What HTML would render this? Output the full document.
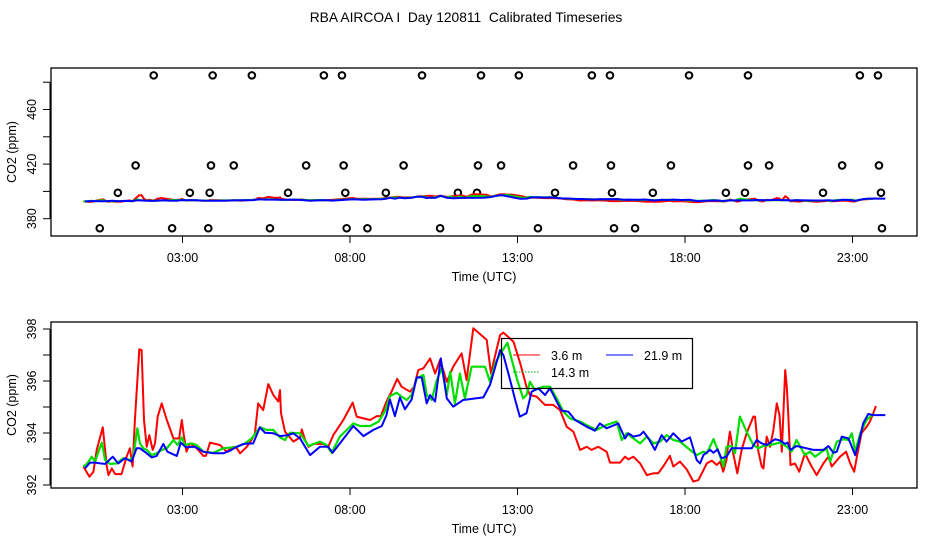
<!DOCTYPE html>
<html><head><meta charset="utf-8"><style>
html,body{margin:0;padding:0;background:#fff;}
svg{display:block;font-family:"Liberation Sans",sans-serif;}
</style></head><body>
<svg id="chart" width="936" height="540" viewBox="0 0 936 540" xmlns="http://www.w3.org/2000/svg">
<text x="466" y="22" font-size="13.8" text-anchor="middle" xml:space="preserve">RBA AIRCOA I  Day 120811  Calibrated Timeseries</text>
<g id="topPanel"></g>
<g id="botPanel"></g>
</svg>
<script>
const timeTicks = [3, 8, 13, 18, 23];
const timeTickLabels = ["03:00", "08:00", "13:00", "18:00", "23:00"];
const topYTicks = [380, 400, 420, 440, 460, 480];
const topYLabels = ["380", "", "420", "", "460", ""];
const botYTicks = [392, 393, 394, 395, 396, 397, 398];
const botYLabels = ["392", "", "394", "", "396", "", "398"];

const redHours = [0.04,0.22,0.34,0.44,0.62,0.74,0.79,0.89,0.99,1.18,1.33,1.43,1.51,1.58,1.71,1.78,1.85,1.93,2.01,2.11,2.18,2.26,2.38,2.53,2.73,2.90,2.98,3.04,3.12,3.22,3.37,3.47,3.62,3.70,3.82,4.12,4.32,4.52,4.62,4.72,4.92,5.06,5.16,5.26,5.41,5.56,5.71,5.86,5.91,5.94,6.06,6.31,6.51,6.56,6.66,6.76,6.91,7.20,7.35,7.50,7.80,8.08,8.20,8.40,8.60,8.80,8.92,9.09,9.24,9.41,9.54,9.79,9.91,10.04,10.19,10.39,10.54,10.69,10.89,11.08,11.33,11.48,11.68,12.08,12.21,12.30,12.48,12.58,12.88,13.08,13.27,13.37,13.57,13.82,14.07,14.27,14.47,14.67,14.87,15.07,15.21,15.41,15.66,15.76,16.06,16.21,16.31,16.46,16.66,16.86,17.06,17.20,17.35,17.55,17.65,17.85,18.05,18.25,18.40,18.65,18.80,18.95,19.05,19.14,19.24,19.29,19.34,19.39,19.44,19.56,19.69,19.84,20.04,20.09,20.19,20.29,20.34,20.44,20.54,20.64,20.74,20.82,20.89,20.99,21.04,21.08,21.15,21.28,21.41,21.58,21.78,21.93,22.13,22.28,22.38,22.63,22.81,22.93,23.05,23.13,23.27,23.42,23.52,23.62,23.70];
const redCO2 = [392.71,392.32,392.51,393.35,394.22,392.71,392.38,392.64,392.42,392.42,393.09,393.41,392.71,394.5,397.22,397.19,394.5,393.47,393.92,393.35,393.6,394.63,395.14,394.5,393.79,393.79,394.5,393.92,393.28,393.6,393.47,393.35,393.12,393.12,393.63,393.54,393.28,393.47,393.41,393.22,393.47,393.73,393.99,395.14,394.88,395.88,395.46,395.21,395.65,394.76,394.05,393.67,393.83,394.14,393.73,393.47,393.58,393.58,393.47,393.92,394.50,395.17,394.63,394.56,394.50,394.65,394.65,395.21,395.59,396.08,395.78,395.59,395.78,396.42,396.49,396.87,396.29,396.81,395.97,396.55,397.06,396.04,398.03,397.58,396.29,396.81,397.77,397.86,397.51,396.68,395.78,395.46,395.40,395.08,395.08,394.88,394.24,394.05,393.35,393.47,393.35,393.47,393.28,392.86,392.86,393.09,392.99,393.09,392.83,392.38,392.45,392.45,392.71,393.12,392.71,392.90,392.60,392.13,392.19,392.83,392.94,392.77,392.90,392.51,392.96,393.58,394.05,393.67,393.22,392.45,393.35,393.99,394.63,394.63,393.28,392.71,392.64,393.86,393.47,394.12,395.14,394.69,393.28,396.42,395.78,394.76,392.77,392.83,392.51,393.22,392.71,392.38,392.83,393.09,392.71,393.09,393.28,392.83,392.51,393.09,393.99,394.24,394.44,394.76,395.04];

const greenHours = [0.04,0.16,0.29,0.39,0.49,0.59,0.69,0.84,1.03,1.23,1.43,1.53,1.65,1.73,1.83,1.93,2.08,2.23,2.38,2.53,2.73,2.85,2.98,3.07,3.27,3.42,3.62,3.92,4.22,4.62,4.87,5.06,5.31,5.51,5.71,5.91,6.06,6.21,6.51,6.76,7.10,7.30,7.45,7.70,8.10,8.30,8.60,8.85,9.04,9.19,9.39,9.54,9.69,9.84,9.99,10.19,10.29,10.44,10.59,10.74,10.89,10.99,11.13,11.28,11.43,11.63,12.03,12.18,12.33,12.53,12.70,12.83,12.98,13.17,13.27,13.37,13.52,13.77,13.97,14.17,14.37,14.57,14.87,15.16,15.36,15.66,15.96,16.11,16.26,16.46,16.66,16.86,17.06,17.26,17.45,17.65,17.85,18.15,18.35,18.55,18.65,18.85,19.00,19.15,19.24,19.39,19.49,19.64,19.84,20.04,20.19,20.34,20.54,20.84,21.04,21.18,21.33,21.58,21.73,21.88,22.08,22.23,22.33,22.53,22.73,22.88,22.98,23.08,23.23,23.42,23.62];
const greenCO2 = [392.71,392.83,393.09,392.90,393.28,393.63,392.96,392.81,392.83,393.03,392.96,393.09,394.18,393.60,393.41,393.35,393.15,393.22,393.35,393.41,393.73,393.54,393.83,393.54,393.60,393.54,393.28,393.24,393.41,393.47,393.60,393.79,394.22,394.12,394.12,393.83,393.73,394.01,393.99,393.50,393.67,393.54,393.24,393.86,394.37,394.27,394.27,394.44,394.82,395.42,395.55,395.40,395.27,395.46,396.10,396.23,395.46,395.27,396.04,396.49,395.46,396.36,395.14,396.29,395.33,396.55,396.55,395.97,396.68,397.13,397.47,396.81,396.10,395.33,395.46,395.97,395.65,395.78,395.78,395.33,394.82,394.56,394.44,394.24,394.12,394.31,394.44,393.73,393.99,393.79,393.60,393.86,393.60,393.67,393.92,393.73,393.67,393.35,393.15,393.28,393.22,393.76,393.28,392.71,393.47,393.50,393.22,394.63,394.05,393.54,393.41,393.50,393.54,393.63,393.47,393.28,393.73,393.15,393.28,393.09,393.28,393.41,392.90,393.67,393.76,393.73,393.99,393.28,393.99,394.50,394.73];

const blueHours = [0.09,0.24,0.39,0.54,0.69,0.92,1.08,1.28,1.48,1.63,1.73,1.93,2.08,2.23,2.43,2.55,2.83,2.95,3.10,3.37,3.62,3.92,4.22,4.42,4.57,4.82,5.11,5.31,5.46,5.71,5.91,6.16,6.31,6.51,6.81,7.10,7.35,7.48,7.70,8.10,8.40,8.70,8.95,9.09,9.19,9.34,9.49,9.64,9.84,9.99,10.14,10.29,10.39,10.54,10.71,10.89,11.08,11.38,11.98,12.18,12.48,12.58,12.78,12.93,13.07,13.27,13.42,13.62,13.82,13.97,14.22,14.32,14.52,14.72,15.07,15.31,15.46,15.66,16.01,16.21,16.31,16.46,16.66,16.76,16.91,17.10,17.30,17.45,17.65,17.90,18.15,18.35,18.45,18.55,18.75,18.85,18.97,19.09,19.24,19.39,19.64,19.99,20.14,20.29,20.44,20.69,20.84,20.99,21.06,21.15,21.33,21.63,21.83,22.13,22.28,22.43,22.53,22.68,22.88,23.08,23.17,23.32,23.47,23.62,23.98];
const blueCO2 = [392.64,392.86,392.86,392.83,392.81,393.09,392.83,393.03,392.90,393.41,393.41,393.22,393.06,393.12,393.58,393.28,393.12,393.63,393.45,393.47,393.28,393.22,393.22,393.32,393.44,393.58,393.60,394.22,394.01,393.99,393.88,393.92,393.99,393.79,393.15,393.47,393.47,393.24,393.60,394.27,393.88,394.12,394.27,394.69,395.29,394.65,395.37,394.91,395.29,396.14,396.14,395.14,395.46,395.21,396.87,395.33,395.01,395.27,395.37,395.85,397.19,397.00,396.04,395.27,394.63,394.76,395.59,395.72,395.46,395.72,395.08,394.86,394.82,394.50,394.24,394.09,394.37,394.18,394.37,393.79,393.99,393.86,393.92,394.05,393.79,393.35,393.92,393.67,393.99,393.67,393.83,392.96,392.83,393.15,393.35,393.24,393.37,393.03,393.09,393.41,393.41,393.41,393.73,393.60,393.54,393.76,393.71,393.58,393.63,393.35,393.50,393.41,393.35,393.35,393.50,393.24,393.28,393.86,393.79,393.15,393.54,394.37,394.73,394.69,394.69];

const flagHours = [2.14,3.90,5.07,7.22,7.76,10.15,11.91,13.04,15.22,15.76,18.12,19.88,23.22,23.76, 1.60,3.85,4.53,6.69,7.81,9.60,11.82,12.51,14.66,15.79,17.58,19.88,20.51,22.69,23.79, 1.07,3.22,3.81,6.15,7.86,9.07,11.22,11.79,14.12,15.82,17.04,19.22,19.79,22.12,23.85, 0.53,2.69,3.77,5.61,7.90,8.52,10.69,11.79,13.61,15.88,16.51,18.69,19.76,21.58,23.88];
const flagCO2 = [485,485,485,485,485,485,485,485,485,485,485,485,485,485, 419,419,419,419,419,419,419,419,419,419,419,419,419,419,419, 399,399,399,399,399,399,399,399,399,399,399,399,399,399,399, 373,373,373,373,373,373,373,373,373,373,373,373,373,373,373];

const NS = "http://www.w3.org/2000/svg";
function mk(tag, attrs, parent) {
  const e = document.createElementNS(NS, tag);
  for (const k in attrs) e.setAttribute(k, attrs[k]);
  parent.appendChild(e);
  return e;
}
function xScale(h) { return 82 + h * 33.5; }
function topY(v) { return 218.7 - (v - 380) * 1.365; }
function botY(v) { return 485 - (v - 392) * 26; }

function drawAxes(g, box, yTicks, yLabels, yFn, name) {
  const frame = mk("rect", {x: box.x0, y: box.y0, width: box.x1 - box.x0, height: box.y1 - box.y0, fill: "none", stroke: "#000", "stroke-width": 1.3}, g);
  
  
  timeTicks.forEach((t, i) => {
    const x = xScale(t);
    const tk = mk("line", {x1: x, x2: x, y1: box.y1, y2: box.y1 + 7, stroke: "#000", "stroke-width": 1}, g);
    
    
    const lb = mk("text", {x: x, y: box.y1 + 26, "font-size": 12.5, "text-anchor": "middle"}, g);
    lb.textContent = timeTickLabels[i];
    
    
  });
  const axl = mk("line", {x1: 50, x2: 50, y1: yFn(yTicks[0]), y2: yFn(yTicks[yTicks.length - 1]), stroke: "#000", "stroke-width": 1}, g);
  
  
  yTicks.forEach((v, i) => {
    const y = yFn(v);
    const tk = mk("line", {x1: 43, x2: 50, y1: y, y2: y, stroke: "#000", "stroke-width": 1}, g);
    
    
    if (yLabels[i]) {
      const lb = mk("text", {x: 0, y: 0, "font-size": 12.5, "text-anchor": "middle", transform: "translate(36," + y + ") rotate(-90)"}, g);
      lb.textContent = yLabels[i];
      
      
    }
  });
  const yt = mk("text", {x: 0, y: 0, "font-size": 12.5, "text-anchor": "middle", transform: "translate(16," + ((box.y0 + box.y1) / 2) + ") rotate(-90)"}, g);
  yt.textContent = "CO2 (ppm)";
  
  
  const xt = mk("text", {x: 484, y: box.y1 + 45, "font-size": 12.5, "text-anchor": "middle"}, g);
  xt.textContent = "Time (UTC)";
  
  
}

function drawSeries(g, hours, vals, yFn, color, width, name) {
  const pts = hours.map((h, i) => xScale(h).toFixed(1) + "," + yFn(vals[i]).toFixed(1)).join(" ");
  const p = mk("polyline", {points: pts, fill: "none", stroke: color, "stroke-width": width, "stroke-linejoin": "round"}, g);
  
  
}

const topG = document.getElementById("topPanel");
const botG = document.getElementById("botPanel");
drawAxes(topG, {x0: 51, x1: 917, y0: 68, y1: 236}, topYTicks, topYLabels, topY, "top");
drawAxes(botG, {x0: 51, x1: 917, y0: 322, y1: 488}, botYTicks, botYLabels, botY, "bottom");

flagHours.forEach((h, i) => {
  const c = mk("circle", {cx: xScale(h), cy: topY(flagCO2[i]), r: 3.3, fill: "none", stroke: "#000", "stroke-width": 2}, topG);
  
  
});
drawSeries(topG, redHours, redCO2, topY, "#ff0000", 2, "top-series-3-6m");
drawSeries(topG, greenHours, greenCO2, topY, "#00dd00", 2, "top-series-14-3m");
drawSeries(topG, blueHours, blueCO2, topY, "#0000ff", 2, "top-series-21-9m");

drawSeries(botG, redHours, redCO2, botY, "#ff0000", 2, "series-3-6m");
drawSeries(botG, greenHours, greenCO2, botY, "#00dd00", 2.2, "series-14-3m");
drawSeries(botG, blueHours, blueCO2, botY, "#0000ff", 2, "series-21-9m");

const lg = mk("g", {}, botG);


const lbox = mk("rect", {x: 501.5, y: 338.5, width: 191, height: 50, fill: "none", stroke: "#000", "stroke-width": 1.2}, lg);


const entries = [
  {x: 513, y: 355, color: "#ff0000", label: "3.6 m", dash: null},
  {x: 513, y: 372, color: "#00aa00", label: "14.3 m", dash: "1.5,1.5"},
  {x: 606, y: 355, color: "#0000ff", label: "21.9 m", dash: null}
];
entries.forEach(en => {
  const ln = mk("line", {x1: en.x, x2: en.x + 27, y1: en.y, y2: en.y, stroke: en.color, "stroke-width": 1}, lg);
  if (en.dash) ln.setAttribute("stroke-dasharray", en.dash);
  
  
  const tx = mk("text", {x: en.x + 38, y: en.y + 5, "font-size": 12.5}, lg);
  tx.textContent = en.label;
  
  
});
</script>
</body></html>
